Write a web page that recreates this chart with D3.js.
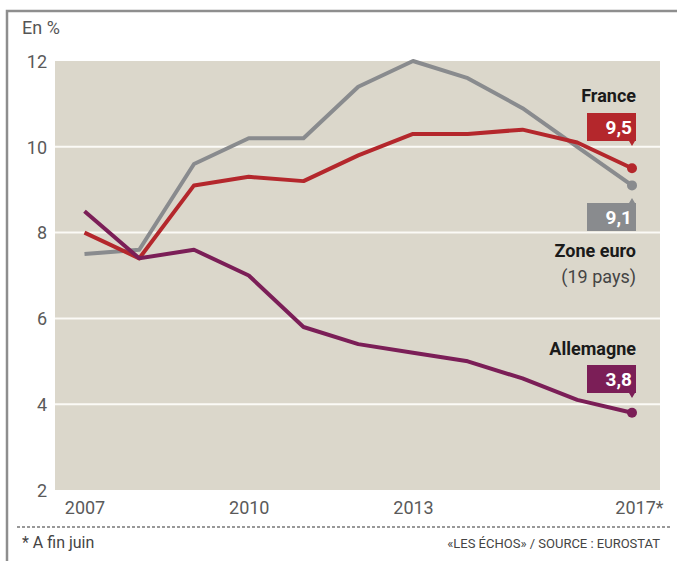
<!DOCTYPE html>
<html>
<head>
<meta charset="utf-8">
<script src="https://cdn.jsdelivr.net/npm/d3@7"></script>
<style>
  body { margin: 0; background: #fff; }
  svg { display: block; font-family: Roboto, "Open Sans", sans-serif; }
</style>
</head>
<body>
<div id="chart"></div>
<script>
// unemployment rate, in %
const years = [2007, 2008, 2009, 2010, 2011, 2012, 2013, 2014, 2015, 2016, 2017]
const france = [8.0, 7.4, 9.1, 9.3, 9.2, 9.8, 10.3, 10.3, 10.4, 10.1, 9.5]
const zoneEuro = [7.5, 7.6, 9.6, 10.2, 10.2, 11.4, 12.0, 11.6, 10.9, 10.0, 9.1]
const allemagne = [8.5, 7.4, 7.6, 7.0, 5.8, 5.4, 5.2, 5.0, 4.6, 4.1, 3.8]
const yTicks = [2, 4, 6, 8, 10, 12]
const xTicks = [2007, 2010, 2013, 2017]
const xTickLabels = ["2007", "2010", "2013", "2017*"]

const W = 677, H = 561
const plot = { left: 55, right: 660, top: 61, bottom: 490 }

const svg = d3.select("#chart").append("svg")
  .attr("width", W)
  .attr("height", H)

// frame
svg.append("path")
  .attr("d", `M7,${H} V11 H${W}`)
  .attr("fill", "none")
  .attr("stroke", "#8e8e8e")
  .attr("stroke-width", 2.5)

const x = d3.scaleLinear().domain([2007, 2017]).range([84.5, 632])
const y = d3.scaleLinear().domain([2, 12]).range([plot.bottom, plot.top])

svg.append("rect")
  .attr("x", plot.left)
  .attr("y", plot.top)
  .attr("width", plot.right - plot.left)
  .attr("height", plot.bottom - plot.top)
  .attr("fill", "#dbd7cb")

// grid
svg.append("g")
  .selectAll("line")
  .data(yTicks.filter(d => d > 2 && d < 12))
  .enter()
  .append("line")
  .attr("x1", plot.left)
  .attr("x2", plot.right)
  .attr("y1", d => y(d))
  .attr("y2", d => y(d))
  .attr("stroke", "#fbfaf6")
  .attr("stroke-width", 2)

// y axis labels
const yAxis = svg.append("g")
  .attr("transform", `translate(${plot.left - 8},0)`)
  .call(d3.axisLeft(y).tickValues(yTicks).tickSize(0).tickPadding(0))
yAxis.select(".domain").remove()
yAxis.selectAll("text")
  .attr("font-size", 18)
  .attr("font-family", "Roboto, sans-serif")
  .attr("fill", "#5a5a5a")
  .attr("dy", "0.35em")

svg.append("text")
  .attr("x", 22)
  .attr("y", 34)
  .attr("font-size", 18)
  .attr("fill", "#555")
  .text("En %")

// x axis labels
const xAxis = svg.append("g")
  .attr("transform", `translate(0,${plot.bottom})`)
  .call(d3.axisBottom(x).tickValues(xTicks).tickSize(0).tickPadding(11)
    .tickFormat((d, i) => xTickLabels[i]))
xAxis.select(".domain").remove()
xAxis.selectAll("text")
  .attr("font-size", 18)
  .attr("font-family", "Roboto, sans-serif")
  .attr("fill", "#5a5a5a")
xAxis.selectAll("text").filter(d => d == 2017)
  .attr("text-anchor", "end")
  .attr("dx", 31)

// lines
const series = [
  { name: "Zone euro", values: zoneEuro, color: "#898b8e" },
  { name: "France", values: france, color: "#b4272c" },
  { name: "Allemagne", values: allemagne, color: "#7b1e57" }
]

const line = d3.line()
  .x((d, i) => x(years[i]))
  .y(d => y(d))

series.forEach(s => {
  svg.append("path")
    .datum(s.values)
    .attr("d", line)
    .attr("fill", "none")
    .attr("stroke", s.color)
    .attr("stroke-width", 4)
    .attr("stroke-linejoin", "round")
  svg.append("circle")
    .attr("cx", x(years[years.length - 1]))
    .attr("cy", y(s.values[s.values.length - 1]))
    .attr("r", 5)
    .attr("fill", s.color)
})

// value boxes with a small pointer
function valueBox(s, top, pointDown) {
  const last = s.values[s.values.length - 1]
  const bx = 587, bw = 49, bh = 28
  const px = 632
  const g = svg.append("g")
  let d
  if (pointDown) {
    d = `M${bx},${top} H${bx + bw} V${top + bh} H${px + 3} L${px},${top + bh + 5} L${px - 3},${top + bh} H${bx} Z`
  } else {
    d = `M${bx},${top} H${px - 3} L${px},${top - 5} L${px + 3},${top} H${bx + bw} V${top + bh} H${bx} Z`
  }
  g.append("path").attr("d", d).attr("fill", s.color)
  g.append("text")
    .attr("x", bx + bw - 4)
    .attr("y", top + 21)
    .attr("text-anchor", "end")
    .attr("font-size", 19)
    .attr("font-weight", "bold")
    .attr("fill", "#fff")
    .text(d3.format(".1f")(last).replace(".", ","))
}

function label(text, yy, bold) {
  svg.append("text")
    .attr("x", 636)
    .attr("y", yy)
    .attr("text-anchor", "end")
    .attr("font-size", 18)
    .attr("font-weight", bold ? "bold" : "normal")
    .attr("fill", bold ? "#1a1a1a" : "#444")
    .text(text)
}

label("France", 102, true)
valueBox(series[1], 113, true)
valueBox(series[0], 203, false)
label("Zone euro", 257, true)
label("(19 pays)", 283, false)
label("Allemagne", 355, true)
valueBox(series[2], 365, true)

// footer
svg.append("line")
  .attr("x1", 17)
  .attr("x2", 670)
  .attr("y1", 527)
  .attr("y2", 527)
  .attr("stroke", "#777")
  .attr("stroke-width", 1.5)
  .attr("stroke-dasharray", "3,2")

svg.append("text")
  .attr("x", 22)
  .attr("y", 548)
  .attr("font-size", 16)
  .attr("fill", "#444")
  .text("* A fin juin")

svg.append("text")
  .attr("x", 660)
  .attr("y", 548)
  .attr("text-anchor", "end")
  .attr("font-size", 13)
  .attr("fill", "#444")
  .text("«LES ÉCHOS» / SOURCE : EUROSTAT")
</script>
</body>
</html>
